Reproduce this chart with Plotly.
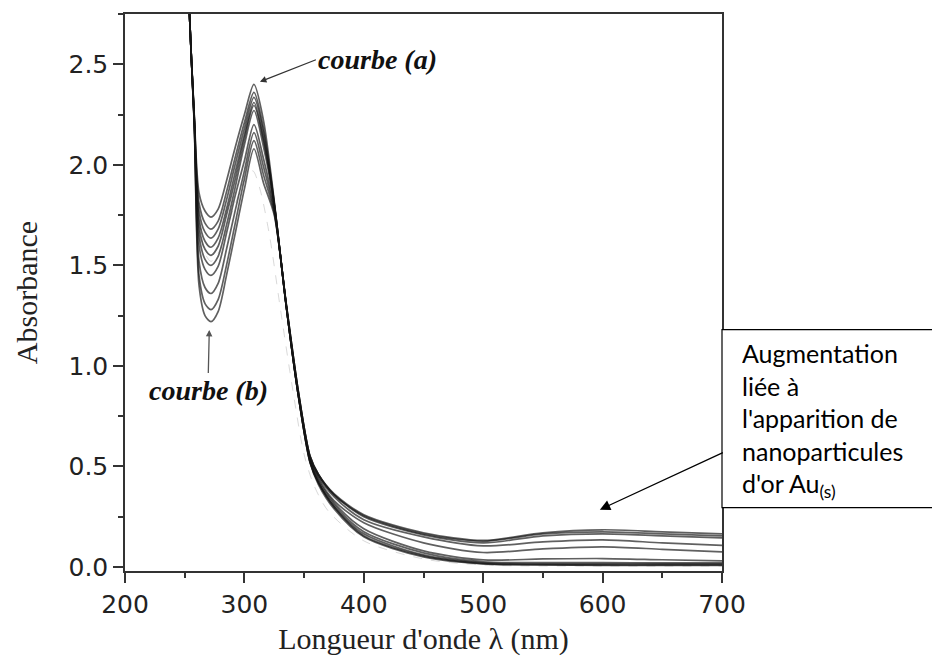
import plotly.graph_objects as go

# Wavelength grid (nm) shared by the ten main spectra
wavelength = [250, 254, 258, 262, 267, 272, 278, 285, 292, 300, 308, 316, 325,
              335, 345, 355, 362, 375, 400, 450, 500, 550, 600, 650, 700]

# Absorbance spectra, curve (a) first ... curve (b) last
curve_a = [3.6, 2.75, 2.25, 1.86, 1.77, 1.74, 1.78, 1.92, 2.08, 2.25, 2.40, 2.22, 1.82,
           1.30, 0.86, 0.52, 0.41, 0.29, 0.15, 0.05, 0.015, 0.01, 0.008, 0.008, 0.008]
curve_2 = [3.6, 2.75, 2.24, 1.81, 1.71, 1.68, 1.72, 1.865, 2.03, 2.21, 2.36, 2.18, 1.81,
           1.30, 0.86, 0.52, 0.42, 0.30, 0.155, 0.055, 0.017, 0.012, 0.01, 0.01, 0.01]
curve_3 = [3.6, 2.75, 2.24, 1.77, 1.665, 1.635, 1.68, 1.825, 1.995, 2.18, 2.335, 2.16, 1.81,
           1.30, 0.86, 0.52, 0.42, 0.30, 0.165, 0.06, 0.02, 0.016, 0.015, 0.015, 0.015]
curve_4 = [3.6, 2.75, 2.23, 1.73, 1.62, 1.59, 1.635, 1.78, 1.955, 2.15, 2.31, 2.13, 1.80,
           1.30, 0.86, 0.53, 0.42, 0.31, 0.175, 0.07, 0.025, 0.022, 0.022, 0.02, 0.02]
curve_5 = [3.6, 2.75, 2.23, 1.69, 1.58, 1.55, 1.595, 1.75, 1.92, 2.13, 2.295, 2.12, 1.80,
           1.30, 0.86, 0.53, 0.43, 0.32, 0.19, 0.08, 0.035, 0.04, 0.042, 0.036, 0.03]
curve_6 = [3.6, 2.75, 2.22, 1.65, 1.53, 1.50, 1.545, 1.70, 1.88, 2.10, 2.27, 2.09, 1.80,
           1.30, 0.87, 0.54, 0.44, 0.33, 0.22, 0.12, 0.072, 0.09, 0.10, 0.088, 0.075]
curve_7 = [3.6, 2.75, 2.22, 1.60, 1.48, 1.45, 1.495, 1.66, 1.84, 2.02, 2.20, 2.03, 1.78,
           1.30, 0.87, 0.54, 0.45, 0.35, 0.235, 0.15, 0.105, 0.125, 0.135, 0.12, 0.107]
curve_8 = [3.6, 2.75, 2.21, 1.52, 1.39, 1.36, 1.41, 1.58, 1.765, 1.97, 2.16, 1.99, 1.77,
           1.31, 0.88, 0.55, 0.46, 0.36, 0.25, 0.16, 0.12, 0.155, 0.165, 0.155, 0.145]
curve_9 = [3.6, 2.75, 2.21, 1.45, 1.31, 1.28, 1.33, 1.50, 1.70, 1.93, 2.12, 1.95, 1.76,
           1.31, 0.88, 0.55, 0.46, 0.36, 0.255, 0.165, 0.128, 0.165, 0.175, 0.165, 0.155]
curve_b = [3.6, 2.75, 2.20, 1.40, 1.25, 1.22, 1.27, 1.45, 1.65, 1.88, 2.08, 1.91, 1.75,
           1.31, 0.88, 0.55, 0.46, 0.365, 0.26, 0.17, 0.132, 0.17, 0.185, 0.175, 0.165]

# Faint dashed reference spectrum
wavelength_ref = [250, 254, 258, 262, 267, 272, 278, 285, 292, 300, 307, 313, 321,
                  330, 340, 350, 358, 370, 400, 450, 500, 600, 700]
curve_ref = [3.6, 2.75, 2.2, 1.75, 1.56, 1.52, 1.56, 1.68, 1.80, 1.92, 1.97, 1.88, 1.65,
             1.29, 0.90, 0.56, 0.41, 0.28, 0.13, 0.04, 0.01, 0.005, 0.005]

x_ticks = [200, 300, 400, 500, 600, 700]
y_ticks = [0.0, 0.5, 1.0, 1.5, 2.0, 2.5]

spectra = [curve_a, curve_2, curve_3, curve_4, curve_5, curve_6, curve_7, curve_8, curve_9, curve_b]

fig = go.Figure()
fig.add_trace(go.Scatter(x=wavelength_ref, y=curve_ref, mode="lines",
                         line=dict(color="rgba(170,170,170,0.45)", width=1, dash="dash",
                                   shape="spline", smoothing=0.8),
                         showlegend=False, hoverinfo="skip"))
for s in spectra:
    fig.add_trace(go.Scatter(x=wavelength, y=s, mode="lines",
                             line=dict(color="rgba(20,20,20,0.68)", width=1.7,
                                       shape="spline", smoothing=0.8),
                             showlegend=False))

serif = "Liberation Serif"
tickfont = dict(family="DejaVu Sans", size=25, color="#222")
fig.update_layout(
    width=932, height=663,
    margin=dict(l=125, r=210, t=12, b=92),
    paper_bgcolor="white", plot_bgcolor="white",
    xaxis=dict(range=[200, 700], tickvals=x_ticks, ticks="outside", ticklen=10, tickwidth=1.5,
               tickcolor="#333", showline=True, linecolor="#333", linewidth=1.5, mirror=True,
               showgrid=False, zeroline=False, tickfont=tickfont,
               minor=dict(dtick=50, ticks="outside", ticklen=5, tickwidth=1.5, tickcolor="#333"),
               title=dict(text="Longueur d'onde λ (nm)", font=dict(family=serif, size=30, color="#222"),
                          standoff=10)),
    yaxis=dict(range=[-0.02, 2.75], tickvals=y_ticks, tickformat=".1f", ticks="outside", ticklen=10,
               tickwidth=1.5, tickcolor="#333", showline=True, linecolor="#333", linewidth=1.5,
               mirror=True, showgrid=False, zeroline=False, tickfont=tickfont,
               minor=dict(dtick=0.25, ticks="outside", ticklen=5, tickwidth=1.5, tickcolor="#333"),
               title=dict(text="Absorbance", font=dict(family=serif, size=30, color="#222"),
                          standoff=22)),
)

# Box for the gold nanoparticle note (runs off the right edge, as in the original)
fig.add_shape(type="rect", xref="paper", yref="y", x0=1.0, x1=1.5, y0=0.295, y1=1.18,
              line=dict(color="black", width=1.2), fillcolor="white", layer="above")

annotations = [
    dict(x=313.0, y=2.413, xref="x", yref="y", text="<b><i>courbe (a)</i></b>", showarrow=True,
         ax=56, ay=-22, xanchor="left", yanchor="middle", arrowhead=2, arrowsize=1,
         arrowwidth=1.3, arrowcolor="#333", font=dict(family=serif, size=28, color="#111")),
    dict(x=270.6, y=1.179, xref="x", yref="y", text="<b><i>courbe (b)</i></b>", showarrow=True,
         ax=-1, ay=43, xanchor="center", yanchor="top", arrowhead=2, arrowsize=1,
         arrowwidth=1.3, arrowcolor="#555", font=dict(family=serif, size=28, color="#111")),
    dict(x=597.7, y=0.285, xref="x", yref="y", showarrow=True, ax=123, ay=-57,
         xanchor="left", yanchor="middle", width=200, height=230, borderpad=18,
         valign="top", align="left",
         text="Augmentation<br>liée à<br>l'apparition de<br>nanoparticules<br>d'or Au<sub>(s)</sub>",
         arrowhead=2, arrowsize=1.6, arrowwidth=1.3, arrowcolor="black",
         font=dict(family="Lato", size=25, color="black")),
]
fig.update_layout(annotations=annotations)

fig.write_html("out.html")
